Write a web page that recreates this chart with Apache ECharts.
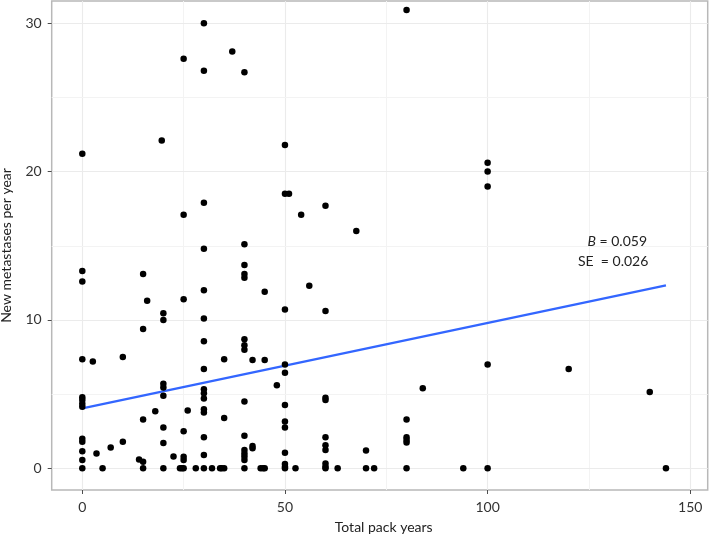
<!DOCTYPE html>
<html><head><meta charset="utf-8">
<script src="https://cdn.jsdelivr.net/npm/echarts@6/dist/echarts.min.js"></script>
<style>html,body{margin:0;padding:0;background:#fff}#c{width:709px;height:535px}</style>
</head><body><div id="c"></div>
<script>
// ---- data ----
const packYears = [
  0,0,0,0,0,0,0,0,0,0,0,0,0,
  2.6,3.5,5,7,10,10,14,
  15,15,15,15,15,16,18,19.6,
  20,20,20,20,20,20,20,20,22.5,24.1,24.6,
  25,25,25,25,25,25,25,26,28,
  30,30,30,30,30,30,30,30,30,30,30,30,30,30,30,30,
  32,34,34.4,35,35,35,37,
  40,40,40,40,40,40,40,40,40,40,40,40,40,40,40,
  42,42,42,44,44.6,45,45,45,48,
  50,50,50,50,50,50,50,50,50,50,50,50,51,52.6,54,56,
  60,60,60,60,60,60,60,60,60,60,63,67.6,70,70,72,
  80,80,80,80,80,80,84,94,
  100,100,100,100,100,120,140,144
];
const metastasesPerYear = [
  21.2,13.3,12.6,7.35,4.8,4.6,4.35,4.15,2.0,1.8,1.15,0.56,0,
  7.2,1.0,0,1.4,7.5,1.8,0.6,
  13.1,9.4,3.3,0.45,0,11.3,3.85,22.1,
  10.45,10.0,5.7,5.45,4.9,2.75,1.7,0,0.8,0,0,
  27.6,17.1,11.4,2.5,0.78,0.56,0,3.9,0,
  30.0,26.8,17.9,14.8,12.0,10.1,8.56,6.7,5.33,5.06,4.7,3.98,3.77,2.1,0.9,0,
  0,0,0,0,7.35,3.4,28.1,
  26.7,15.1,13.7,13.1,12.85,8.7,8.3,8.0,4.5,2.2,1.24,1.0,0.79,0.56,0,
  7.3,1.5,1.35,0,0,0,11.9,7.3,5.6,
  21.8,18.5,10.7,7.0,6.45,4.27,3.15,2.75,1.05,0.29,0.11,0,18.5,0,17.1,12.3,
  17.7,10.6,4.75,4.6,2.09,1.55,1.23,0.33,0.11,0,0,16.0,1.2,0,0,
  30.9,3.3,2.09,1.91,1.75,0,5.4,0,
  20.6,20.0,19.0,7.0,0,6.7,5.15,0
];
const fitX = [0, 144];
const fitY = [4.05, 12.34];
const xTickValues = [0, 50, 100, 150];
const yTickValues = [0, 10, 20, 30];
const xMinorGrid = [25, 75, 125];
const yMinorGrid = [5, 15, 25];
const xTitle = 'Total pack years';
const yTitle = 'New metastases per year';
const annotationB = '0.059';
const annotationSE = '0.026';

// ---- build ----
const FONT = 'Lato';
const X_MIN = -7.55, X_MAX = 154.3, Y_MIN = -1.46, Y_MAX = 31.5;
const points = packYears.map((x, i) => [x, metastasesPerYear[i]]);
const fitLine = fitX.map((x, i) => [x, fitY[i]]);
const major = {color: '#ebebeb', width: 1.1, type: 'solid'};
const minor = {color: '#f3f3f3', width: 1, type: 'solid'};
const vSeg = (v, st) => [{coord: [v, Y_MIN], lineStyle: st}, {coord: [v, Y_MAX]}];
const hSeg = (v, st) => [{coord: [X_MIN, v], lineStyle: st}, {coord: [X_MAX, v]}];
const gridLines = [].concat(
  xTickValues.map(v => vSeg(v, major)),
  xMinorGrid.map(v => vSeg(v, minor)),
  yTickValues.map(v => hSeg(v, major)),
  yMinorGrid.map(v => hSeg(v, minor))
);

const chart = echarts.init(document.getElementById('c'), null, {renderer: 'canvas'});
chart.setOption({
  animation: false,
  backgroundColor: '#fff',
  grid: {left: 51.7, right: 1.3, top: 1, bottom: 45, show: true,
         containLabel: false, outerBoundsMode: 'none',
         borderColor: '#b8b8b8', borderWidth: 1.5, backgroundColor: 'transparent'},
  xAxis: {
    type: 'value', min: X_MIN, max: X_MAX,
    axisLine: {show: false, onZero: false},
    splitLine: {show: false},
    axisTick: {show: true, customValues: xTickValues, length: 4, lineStyle: {color: '#4d4d4d', width: 1}},
    axisLabel: {customValues: xTickValues, margin: 10, fontFamily: FONT, fontSize: 14, color: '#333'},
    name: xTitle, nameLocation: 'middle', nameGap: 30,
    nameTextStyle: {fontFamily: FONT, fontSize: 14, color: '#222', padding: [0, 0, 0, 8]}
  },
  yAxis: {
    type: 'value', min: Y_MIN, max: Y_MAX,
    axisLine: {show: false, onZero: false},
    splitLine: {show: false},
    axisTick: {show: true, customValues: yTickValues, length: 4, lineStyle: {color: '#4d4d4d', width: 1}},
    axisLabel: {customValues: yTickValues, margin: 10, fontFamily: FONT, fontSize: 14, color: '#333'},
    name: yTitle, nameLocation: 'middle', nameGap: 38, nameRotate: 90,
    nameTextStyle: {fontFamily: FONT, fontSize: 14, color: '#222'}
  },
  series: [
    {
      type: 'line', data: fitLine, symbol: 'none', z: 3, silent: true,
      lineStyle: {color: '#3366ff', width: 2.3},
      markLine: {silent: true, symbol: 'none', symbolSize: 0, z: 0, animation: false,
        label: {show: false}, emphasis: {disabled: true}, data: gridLines}
    },
    {
      type: 'scatter', data: points, symbol: 'circle', symbolSize: 6.5, z: 4,
      itemStyle: {color: '#000', opacity: 1}
    }
  ],
  graphic: [
    {type: 'text', right: 62, top: 234.5, silent: true, z: 100,
     style: {text: '{i|B} = ' + annotationB, fontFamily: FONT, fontSize: 14, fill: '#222',
             rich: {i: {fontStyle: 'italic', fontFamily: FONT, fontSize: 14, fill: '#222'}}}},
    {type: 'text', right: 60.7, top: 254.5, silent: true, z: 100,
     style: {text: 'SE  = ' + annotationSE, fontFamily: FONT, fontSize: 14, fill: '#222'}}
  ]
});
</script>
</body></html>
